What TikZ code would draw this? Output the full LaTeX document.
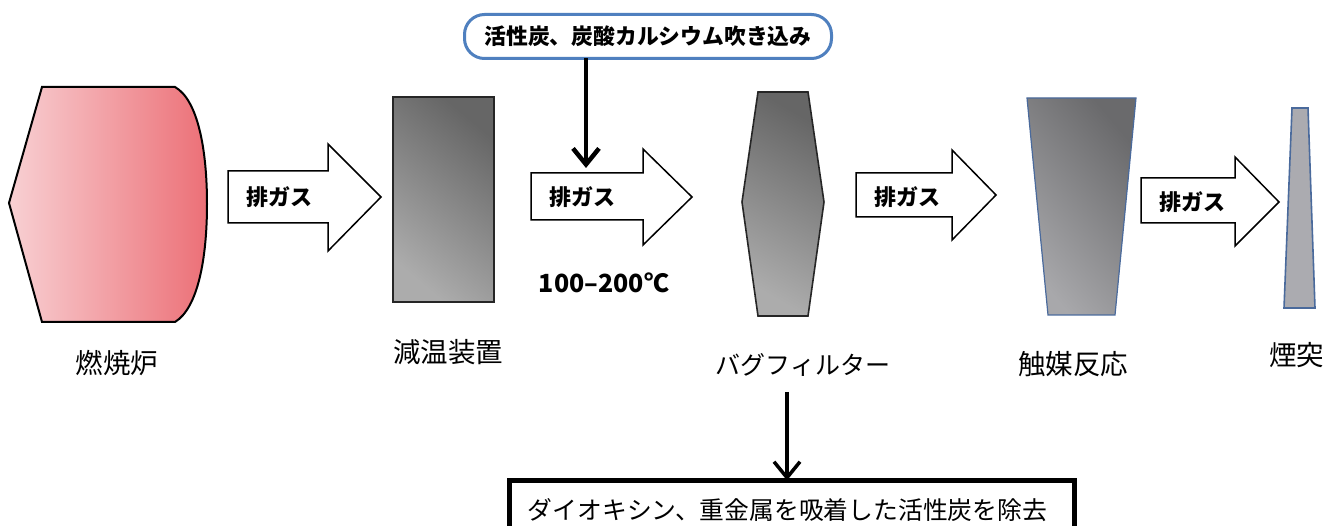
\documentclass[tikz,border=0pt]{standalone}
\usepackage{fontspec}
\setmainfont{Noto Sans CJK JP}
\usetikzlibrary{arrows.meta}
\definecolor{furnL}{HTML}{F8D0D3}
\definecolor{furnR}{HTML}{EC7077}
\definecolor{grayD}{HTML}{666666}
\definecolor{grayL}{HTML}{ACACAC}
\definecolor{catD}{HTML}{6A6A6C}
\definecolor{catL}{HTML}{A8A8AB}
\definecolor{chimF}{HTML}{ABABB0}
\definecolor{edgeBlue}{HTML}{4A6A9C}
\definecolor{boxBlue}{HTML}{4F80BF}
\tikzset{
  blockarrow/.style={draw=black, line width=1.5pt, fill=white, line join=miter},
  lbl/.style={font=\fontsize{27.5}{30}\selectfont, inner sep=0pt},
  gastext/.style={font=\bfseries\fontsize{22}{24}\selectfont, inner sep=0pt},
  downarrow/.style={draw=black, -{Straight Barb[length=16pt, width=26pt]}},
}
\begin{document}
\begin{tikzpicture}[x=1pt, y=-1pt]
\useasboundingbox[fill=white] (0,0) rectangle (1323,526);

% furnace
\shade[left color=furnL, right color=furnR] (42,87) -- (175,87) .. controls (198,100) and (207,150) .. (207,204) .. controls (207,258) and (198,308) .. (175,322) -- (42,322) -- (9,203) -- cycle;
\draw[line width=2pt, line join=miter] (42,87) -- (175,87) .. controls (198,100) and (207,150) .. (207,204) .. controls (207,258) and (198,308) .. (175,322) -- (42,322) -- (9,203) -- cycle;
\node[lbl] (furnace) at (117,363) {燃焼炉};

% cooler
\shade[top color=grayD, bottom color=grayL, shading angle=-40] (393,97) rectangle (494,302);
\draw[line width=2pt, draw=black!85] (393,97) rectangle (494,302);
\node[lbl] (cooler) at (448,352) {減温装置};

% bag filter
\shade[top color=grayD, bottom color=grayL, shading angle=-30] (758,92) -- (808,92) -- (824,202) -- (808,316) -- (758,316) -- (742,202) -- cycle;
\draw[line width=1.6pt, draw=black!85, line join=miter] (758,92) -- (808,92) -- (824,202) -- (808,316) -- (758,316) -- (742,202) -- cycle;
\node[lbl, font=\fontsize{25}{28}\selectfont] (bagfilter) at (803,365) {バグフィルター};
\coordinate (bfout) at (787,392);

% catalyst
\shade[top color=catD, bottom color=catL, shading angle=-50] (1027,98) -- (1136,98) -- (1115,315) -- (1048,315) -- cycle;
\draw[line width=1.2pt, draw=edgeBlue] (1027,98) -- (1136,98) -- (1115,315) -- (1048,315) -- cycle;
\node[lbl] (catalyst) at (1073,364) {触媒反応};

% chimney
\filldraw[fill=chimF, draw=edgeBlue, line width=1.6pt] (1292,108) -- (1308,108) -- (1315,308) -- (1284,308) -- cycle;
\node[lbl, anchor=west] (chimney) at (1269,355) {煙突};

% block arrows
\draw[blockarrow] (228,171) -- (328,171) -- (328,144) -- (381,197) -- (328,251) -- (328,223) -- (228,223) -- cycle;
\node[gastext] (gas1) at (279,197) {排ガス};
\draw[blockarrow] (531,173) -- (643,173) -- (643,149) -- (692,197) -- (643,245) -- (643,220) -- (531,220) -- cycle;
\node[gastext] (gas2) at (582,197) {排ガス};
\draw[blockarrow] (856,173) -- (952,173) -- (952,150) -- (996,195) -- (952,240) -- (952,217) -- (856,217) -- cycle;
\node[gastext] (gas3) at (907,197) {排ガス};
\draw[blockarrow] (1141,178) -- (1235,178) -- (1235,157) -- (1279,202) -- (1235,246) -- (1235,223) -- (1141,223) -- cycle;
\node[gastext] (gas4) at (1192,202) {排ガス};

\node[font=\bfseries\fontsize{25}{28}\selectfont, inner sep=0pt] (temp) at (604,283) {100–200℃};

% injection box
\node[draw=boxBlue, line width=3pt, rounded corners=20pt, minimum width=367pt, minimum height=44pt, outer sep=0pt, inner sep=0pt, font=\bfseries\fontsize{21.8}{24}\selectfont] (topbox) at (648,36.5) {活性炭、炭酸カルシウム吹き込み};
\coordinate (inj) at (586,168);
\draw[downarrow, line width=4.5pt] (topbox.south -| inj) -- (inj);

% removal box
\node[draw=black, line width=5pt, minimum width=565pt, minimum height=80pt, outer sep=0pt, anchor=north west] (botbox) at (509.5,480.5) {};
\node[font=\fontsize{24.8}{27}\selectfont, inner sep=0pt] (bottxt) at (787.5,510) {ダイオキシン、重金属を吸着した活性炭を除去};
\draw[downarrow, line width=3.5pt] (bfout) -- (botbox.north -| bfout);
\end{tikzpicture}
\end{document}
